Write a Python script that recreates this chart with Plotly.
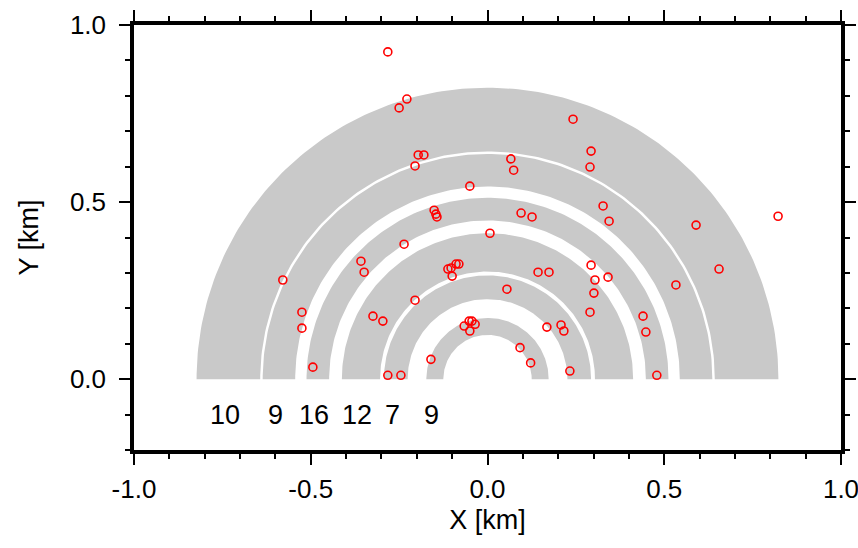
import numpy as np
import plotly.graph_objects as go

# Annular bins (km): inner and outer radius of each half ring, outermost first
ring_inner = [0.643, 0.544, 0.448, 0.304, 0.226, 0.125]
ring_outer = [0.823, 0.636, 0.512, 0.412, 0.293, 0.173]
ring_counts = [10, 9, 16, 12, 7, 9]

# Event locations (km)
event_x = [-0.282, -0.228, -0.250, 0.242, -0.196, -0.180, -0.205, 0.293, 0.290, 0.066,
           0.074, -0.050, -0.151, -0.146, -0.143, 0.095, 0.126, 0.327, 0.344, 0.590,
           0.822, 0.007, -0.236, -0.358, -0.349, -0.579, -0.081, -0.089, -0.103, -0.112,
           -0.100, 0.143, 0.174, 0.293, 0.304, 0.341, 0.655, 0.533, 0.055, 0.301,
           -0.205, -0.525, -0.525, -0.324, -0.296, 0.440, 0.448, 0.290, -0.052, -0.044,
           -0.035, -0.066, -0.050, 0.168, 0.208, 0.216, 0.092, -0.160, 0.122, -0.494,
           -0.282, -0.245, 0.233, 0.479]
event_y = [0.924, 0.791, 0.766, 0.734, 0.633, 0.633, 0.602, 0.644, 0.599, 0.622,
           0.590, 0.545, 0.477, 0.466, 0.458, 0.469, 0.458, 0.489, 0.446, 0.435,
           0.460, 0.412, 0.381, 0.333, 0.302, 0.280, 0.325, 0.325, 0.314, 0.311,
           0.291, 0.302, 0.302, 0.322, 0.280, 0.288, 0.311, 0.266, 0.254, 0.243,
           0.223, 0.189, 0.144, 0.178, 0.164, 0.178, 0.133, 0.189, 0.164, 0.164,
           0.155, 0.150, 0.136, 0.147, 0.153, 0.136, 0.089, 0.056, 0.046, 0.034,
           0.011, 0.011, 0.023, 0.011]

x_ticks = [-1.0, -0.5, 0.0, 0.5, 1.0]
x_tick_text = ["-1.0", "-0.5", "0.0", "0.5", "1.0"]
y_ticks = [0.0, 0.5, 1.0]
y_tick_text = ["0.0", "0.5", "1.0"]

FONT = "Liberation Sans, Arial, Helvetica, sans-serif"
GRAY = "rgb(201,201,201)"

fig = go.Figure()

theta = np.linspace(0, np.pi, 181)
for r_in, r_out in zip(ring_inner, ring_outer):
    xs = np.concatenate([r_out * np.cos(theta), r_in * np.cos(theta[::-1])])
    ys = np.concatenate([r_out * np.sin(theta), r_in * np.sin(theta[::-1])])
    fig.add_trace(go.Scatter(
        x=xs, y=ys, mode="lines", fill="toself", fillcolor=GRAY,
        line=dict(width=0, color=GRAY), hoverinfo="skip", showlegend=False))

fig.add_trace(go.Scatter(
    x=event_x, y=event_y, mode="markers", showlegend=False,
    marker=dict(symbol="circle-open", size=8, color="red", line=dict(width=1.6, color="red"))))

# Event count per ring, written below the left end of each ring
for r_in, r_out, n in zip(ring_inner, ring_outer, ring_counts):
    fig.add_annotation(x=-(r_in + r_out) / 2 - 0.01, y=-0.1, text=str(n), showarrow=False,
                       font=dict(family=FONT, size=27, color="black"),
                       xanchor="center", yanchor="middle")

axis_common = dict(
    showgrid=False, zeroline=False, showline=True, linecolor="black", linewidth=3.5,
    mirror="ticks", ticks="outside", ticklen=11, tickwidth=2, tickcolor="black",
    tickfont=dict(family=FONT, size=26, color="black"), automargin=False,
    ticklabeloverflow="allow",
    minor=dict(ticks="outside", ticklen=5, tickwidth=2, tickcolor="black", dtick=0.1),
)

fig.update_xaxes(range=[-1.0, 1.0], tickvals=x_ticks, ticktext=x_tick_text,
                 ticklabelstandoff=2,
                 title=dict(text="X [km]", font=dict(family=FONT, size=27, color="black"),
                            standoff=8),
                 **axis_common)
fig.update_yaxes(range=[-0.2, 1.0], tickvals=y_ticks, ticktext=y_tick_text,
                 ticklabelstandoff=8,
                 title=dict(text="Y [km]", font=dict(family=FONT, size=27, color="black"),
                            standoff=24),
                 **axis_common)

fig.update_layout(
    width=858, height=548,
    margin=dict(l=134, r=17, t=25, b=98),
    plot_bgcolor="white", paper_bgcolor="white",
)

fig.write_html("out.html")
